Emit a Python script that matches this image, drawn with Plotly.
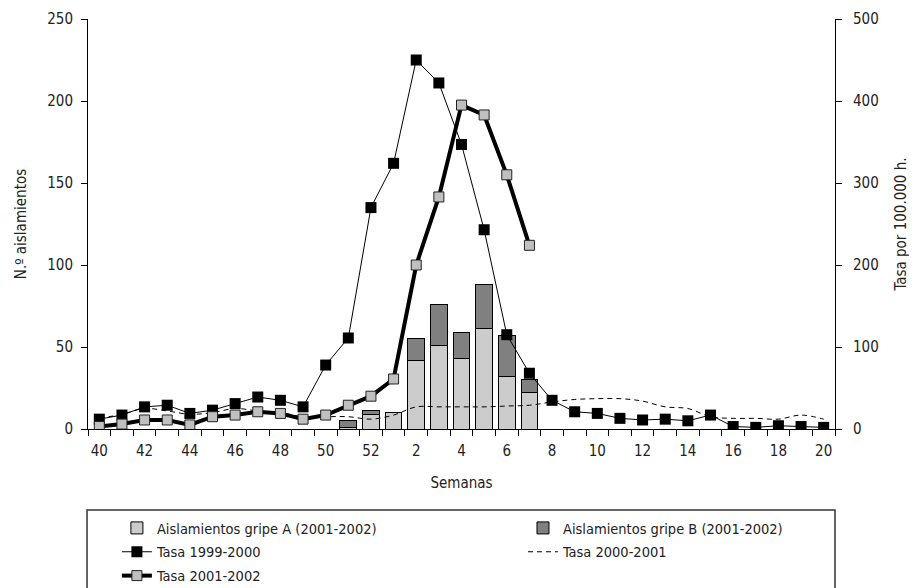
import plotly.graph_objects as go

weeks = [str(w) for w in range(40, 53)] + [str(w) for w in range(1, 21)]
tick_labels = [w if int(w) % 2 == 0 else "" for w in weeks]

bar_weeks = ["51", "52", "1", "2", "3", "4", "5", "6", "7"]
gripe_a = [1, 9, 10, 42, 51, 43, 61, 32, 22]
gripe_b = [4, 2, 0, 13, 25, 16, 27, 25, 8]

tasa_1999_2000 = [12, 17, 27, 29, 19, 23, 31, 39, 35, 27, 78, 111, 270,
                  324, 450, 422, 347, 243, 115, 68, 35, 21, 19, 13, 11,
                  12, 10, 17, 3, 2, 4, 3, 2]

tasa_2000_2001 = [13, 18, 25, 22, 18, 20, 25, 22, 20, 15, 15, 15, 12,
                  17, 27, 27, 27, 27, 28, 29, 33, 36, 37, 37, 34,
                  27, 25, 15, 13, 13, 12, 17, 12]

weeks_2001_2002 = weeks[:20]
tasa_2001_2002 = [3, 6, 11, 11, 5, 15, 17, 21, 19, 12, 17, 29, 40,
                  61, 200, 283, 395, 383, 310, 224]

FONT = "Liberation Sans Narrow, DejaVu Sans Condensed, sans-serif"
TXT = "#222222"

fig = go.Figure()
fig.add_trace(go.Bar(x=bar_weeks, y=gripe_a, name="Aislamientos gripe A (2001-2002)",
                     legend="legend", legendgroup="a",
                     marker=dict(color="#cccccc", line=dict(color="black", width=1))))
fig.add_trace(go.Bar(x=bar_weeks, y=gripe_b, name="Aislamientos gripe B (2001-2002)",
                     legend="legend2", legendgroup="b",
                     marker=dict(color="#808080", line=dict(color="black", width=1))))
fig.add_trace(go.Scatter(x=weeks, y=tasa_1999_2000, name="Tasa 1999-2000", yaxis="y2",
                         legend="legend", legendgroup="c",
                         mode="lines+markers", line=dict(color="black", width=1),
                         marker=dict(symbol="square", size=11, color="black")))
fig.add_trace(go.Scatter(x=weeks, y=tasa_2000_2001, name="Tasa 2000-2001", yaxis="y2",
                         legend="legend2", legendgroup="d",
                         mode="lines", line=dict(color="black", width=1, dash="5px,4px", shape="spline")))
fig.add_trace(go.Scatter(x=weeks_2001_2002, y=tasa_2001_2002, name="Tasa 2001-2002", yaxis="y2",
                         legend="legend", legendgroup="e",
                         mode="lines+markers", line=dict(color="black", width=4),
                         marker=dict(symbol="square", size=10, color="#c0c0c0",
                                     line=dict(color="#222222", width=1))))

axis_common = dict(ticks="outside", ticklen=6, tickcolor="black", showline=True,
                   linecolor="black", linewidth=1, showgrid=False, zeroline=False,
                   automargin=False, tickfont=dict(size=15, color=TXT))

legend_common = dict(orientation="v", xanchor="left", yanchor="top", y=-0.2024,
                     traceorder="grouped", tracegroupgap=2, bgcolor="rgba(0,0,0,0)",
                     font=dict(size=14.5, color=TXT, family=FONT))

fig.update_layout(
    template="none",
    width=909, height=580,
    margin=dict(l=80, r=82, t=11, b=159, autoexpand=False),
    plot_bgcolor="white", paper_bgcolor="white",
    font=dict(family=FONT, size=15, color=TXT),
    barmode="stack", bargap=0.26,
    xaxis=dict(type="category", categoryorder="array", categoryarray=weeks,
               tickmode="array", tickvals=weeks, ticktext=tick_labels,
               tickson="boundaries", tickangle=0, range=[-0.5, 32.5],
               ticklabelstandoff=8,
               title=dict(text="Semanas", standoff=18, font=dict(size=15)),
               **axis_common),
    yaxis=dict(range=[0, 250], dtick=50, ticklabelstandoff=5,
               title=dict(text="N.º aislamientos", standoff=16, font=dict(size=15)),
               **axis_common),
    yaxis2=dict(range=[0, 500], dtick=100, overlaying="y", side="right",
                ticklabelstandoff=8,
                title=dict(text="Tasa por 100.000 h.", standoff=17, font=dict(size=15)),
                **axis_common),
    legend=dict(x=0.0387, **legend_common),
    legend2=dict(x=0.5823, **legend_common),
    shapes=[dict(type="rect", xref="paper", yref="paper", x0=-0.0013, x1=1.0,
                 y0=-0.45, y1=-0.1976, line=dict(color="#333333", width=1.5))],
)

fig.write_html("out.html")
